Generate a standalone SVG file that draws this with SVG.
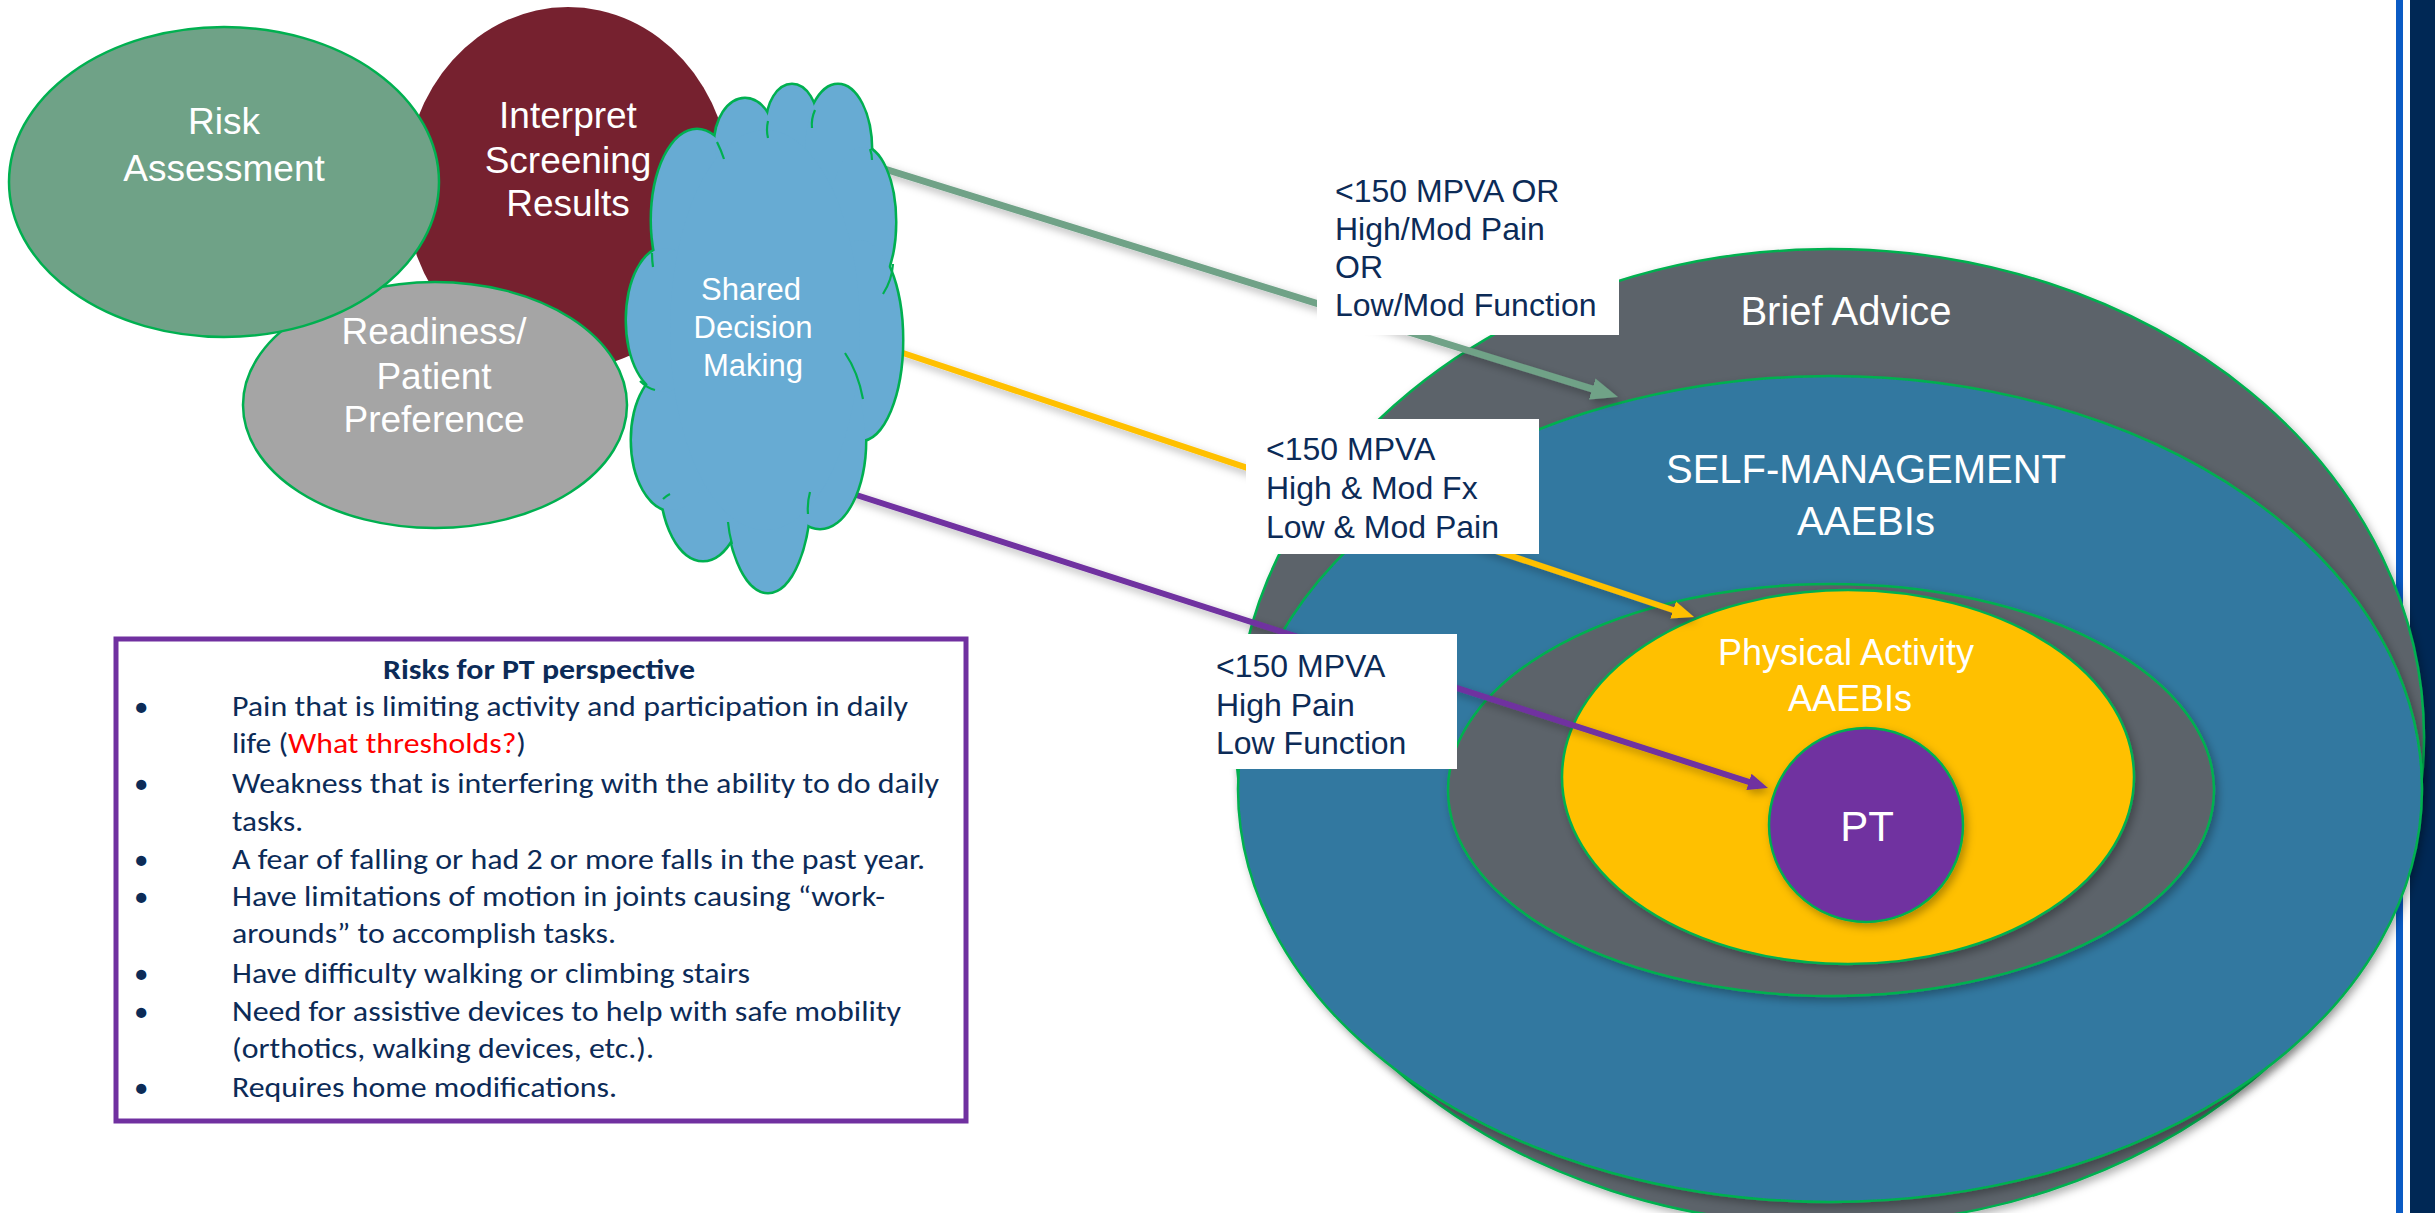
<svg xmlns="http://www.w3.org/2000/svg" xmlns:xlink="http://www.w3.org/1999/xlink" width="2435" height="1213" viewBox="0 0 2435 1213">
<style>
.t{font-family:"Liberation Sans",Arial,sans-serif}
.w{fill:#ffffff}
.lbl{font-family:"Liberation Sans",Arial,sans-serif;fill:#0C2B57;font-size:32px}
.cal{font-family:Carlito,Lato,"Open Sans",sans-serif;fill:#0C2B57;font-size:29px}
.ol{stroke:#00B050;stroke-width:2.5}
.box{fill:#ffffff}
</style>
<defs>
<filter id="sh" x="-10%" y="-10%" width="125%" height="125%">
<feDropShadow dx="3" dy="4" stdDeviation="4" flood-color="#000" flood-opacity="0.3"/>
</filter>
<marker id="ag" markerUnits="userSpaceOnUse" markerWidth="30" markerHeight="24" refX="4" refY="0" viewBox="0 -12 30 24" orient="auto">
<path d="M0,-11 L27,0 L0,11 z" fill="#6FA287"/>
</marker>
<marker id="ay" markerUnits="userSpaceOnUse" markerWidth="24" markerHeight="20" refX="3" refY="0" viewBox="0 -10 24 20" orient="auto">
<path d="M0,-9 L22,0 L0,9 z" fill="#FFC000"/>
</marker>
<marker id="ap" markerUnits="userSpaceOnUse" markerWidth="22" markerHeight="18" refX="3" refY="0" viewBox="0 -9 22 18" orient="auto">
<path d="M0,-8.5 L20,0 L0,8.5 z" fill="#7030A0"/>
</marker>
<g id="lobes">
<ellipse cx="697" cy="220" rx="45" ry="90"/>
<ellipse cx="745" cy="145" rx="30" ry="46"/>
<ellipse cx="792" cy="125" rx="25" ry="40"/>
<ellipse cx="838" cy="150" rx="33" ry="65"/>
<ellipse cx="862" cy="222" rx="33" ry="75"/>
<ellipse cx="860" cy="340" rx="42" ry="100"/>
<ellipse cx="820" cy="440" rx="45" ry="88"/>
<ellipse cx="768" cy="490" rx="42" ry="102"/>
<ellipse cx="703" cy="480" rx="42" ry="80"/>
<ellipse cx="672" cy="440" rx="40" ry="70"/>
<ellipse cx="665" cy="320" rx="38" ry="72"/>
</g>
</defs>
<rect x="0" y="0" width="2435" height="1213" fill="#ffffff"/>
<!-- right edge bars -->
<rect x="2396" y="0" width="7" height="1213" fill="#0A5BC4"/>
<rect x="2410" y="0" width="25" height="1213" fill="#002855"/>

<!-- concentric target -->
<g id="brief-advice">
<ellipse cx="1830" cy="737" rx="594" ry="488" fill="#5C646B" class="ol" filter="url(#sh)"/>
<text class="t w" x="1846" y="325" font-size="40" text-anchor="middle">Brief Advice</text>
</g>
<g id="self-management">
<ellipse cx="1830" cy="789" rx="592" ry="413" fill="#3078A0" class="ol" filter="url(#sh)"/>
<text class="t w" x="1866" y="483" font-size="40" text-anchor="middle">SELF-MANAGEMENT</text>
<text class="t w" x="1866" y="535" font-size="40" text-anchor="middle">AAEBIs</text>
</g>
<g id="inner-ring">
<ellipse cx="1831" cy="790" rx="383" ry="206" fill="#5C646B" class="ol" filter="url(#sh)"/>
</g>
<g id="physical-activity">
<ellipse cx="1848" cy="777" rx="286" ry="187" fill="#FFC000" class="ol" filter="url(#sh)"/>
<text class="t w" x="1846" y="665" font-size="36" text-anchor="middle">Physical Activity</text>
<text class="t w" x="1850" y="711" font-size="36" text-anchor="middle">AAEBIs</text>
</g>
<g id="pt">
<ellipse cx="1866" cy="825" rx="97" ry="97" fill="#7030A0" class="ol" filter="url(#sh)"/>
<text class="t w" x="1867" y="841" font-size="42" text-anchor="middle">PT</text>
</g>

<!-- left nodes -->
<g id="interpret">
<ellipse cx="568" cy="188" rx="163" ry="181" fill="#76212F"/>
<text class="t w" x="568" y="128" font-size="37" text-anchor="middle">Interpret</text>
<text class="t w" x="568" y="173" font-size="37" text-anchor="middle">Screening</text>
<text class="t w" x="568" y="216" font-size="37" text-anchor="middle">Results</text>
</g>
<g id="readiness">
<ellipse cx="435" cy="405" rx="192" ry="123" fill="#A5A5A5" class="ol"/>
<text class="t w" x="434" y="344" font-size="37" text-anchor="middle">Readiness/</text>
<text class="t w" x="434" y="389" font-size="37" text-anchor="middle">Patient</text>
<text class="t w" x="434" y="432" font-size="37" text-anchor="middle">Preference</text>
</g>
<g id="risk-assessment">
<ellipse cx="224" cy="182" rx="215" ry="155" fill="#6FA287" class="ol"/>
<text class="t w" x="224" y="134" font-size="37" text-anchor="middle">Risk</text>
<text class="t w" x="224" y="181" font-size="37" text-anchor="middle">Assessment</text>
</g>

<!-- connectors -->
<g id="connectors" fill="none" filter="url(#sh)">
<line x1="830" y1="152" x2="1596" y2="390.2" stroke="#6FA287" stroke-width="7" marker-end="url(#ag)"/>
<line x1="855" y1="337" x2="1676" y2="611" stroke="#FFC000" stroke-width="6" marker-end="url(#ay)"/>
<line x1="819" y1="483" x2="1751.8" y2="782.8" stroke="#7030A0" stroke-width="6" marker-end="url(#ap)"/>
</g>

<!-- cloud -->
<g id="shared-decision">
<use xlink:href="#lobes" href="#lobes" fill="none" stroke="#00B050" stroke-width="5"/>
<use xlink:href="#lobes" href="#lobes" fill="#67ABD3" stroke="none"/>
<ellipse cx="765" cy="330" rx="95" ry="200" fill="#67ABD3"/>
<g fill="none" stroke="#00B050" stroke-width="2.2">
<path d="M768,121 Q766,130 768,138"/>
<path d="M815,110 Q811,119 812,128"/>
<path d="M893,264 Q892,280 883,294"/>
<path d="M845,353 Q858,372 863,399"/>
<path d="M810,492 Q807,503 808,514"/>
<path d="M728,522 Q729,533 732,544"/>
<path d="M640,381 Q647,388 655,390"/>
<path d="M652,253 Q652,260 653,267"/>
<path d="M717,142 Q721,150 724,159"/>
<path d="M663,499 Q666,496 670,494"/>
<path d="M870,149 Q872,154 872,160"/>
</g>
<text class="t w" x="751" y="300" font-size="31" text-anchor="middle">Shared</text>
<text class="t w" x="753" y="338" font-size="31" text-anchor="middle">Decision</text>
<text class="t w" x="753" y="376" font-size="31" text-anchor="middle">Making</text>
</g>

<!-- label boxes -->
<g id="label-brief">
<rect x="1317" y="166" width="302" height="169" class="box"/>
<text class="lbl" x="1335" y="202">&lt;150 MPVA OR</text>
<text class="lbl" x="1335" y="240">High/Mod Pain</text>
<text class="lbl" x="1335" y="278">OR</text>
<text class="lbl" x="1335" y="316">Low/Mod Function</text>
</g>
<g id="label-self">
<rect x="1246" y="419" width="293" height="135" class="box"/>
<text class="lbl" x="1266" y="460">&lt;150 MPVA</text>
<text class="lbl" x="1266" y="499">High &amp; Mod Fx</text>
<text class="lbl" x="1266" y="538">Low &amp; Mod Pain</text>
</g>
<g id="label-pt">
<rect x="1200" y="634" width="257" height="135" class="box"/>
<text class="lbl" x="1216" y="677">&lt;150 MPVA</text>
<text class="lbl" x="1216" y="716">High Pain</text>
<text class="lbl" x="1216" y="754">Low Function</text>
</g>

<!-- risks box -->
<g id="risks-box">
<rect x="116" y="639" width="850" height="482" fill="#ffffff" stroke="#7030A0" stroke-width="5"/>
<text class="cal" x="539" y="679" font-weight="bold" text-anchor="middle" textLength="312" lengthAdjust="spacingAndGlyphs">Risks for PT perspective</text>
<g class="cal">
<text x="134" y="716">•</text>
<text x="134" y="793">•</text>
<text x="134" y="869">•</text>
<text x="134" y="906">•</text>
<text x="134" y="983">•</text>
<text x="134" y="1021">•</text>
<text x="134" y="1097">•</text>
</g>
<text class="cal" x="232" y="716" textLength="676" lengthAdjust="spacingAndGlyphs">Pain that is limiting activity and participation in daily</text>
<text class="cal" x="232" y="753" textLength="294" lengthAdjust="spacingAndGlyphs">life (<tspan fill="#FF0000">What thresholds?</tspan>)</text>
<text class="cal" x="232" y="793" textLength="707" lengthAdjust="spacingAndGlyphs">Weakness that is interfering with the ability to do daily</text>
<text class="cal" x="232" y="831" textLength="71" lengthAdjust="spacingAndGlyphs">tasks.</text>
<text class="cal" x="232" y="869" textLength="693" lengthAdjust="spacingAndGlyphs">A fear of falling or had 2 or more falls in the past year.</text>
<text class="cal" x="232" y="906" textLength="653" lengthAdjust="spacingAndGlyphs">Have limitations of motion in joints causing “work-</text>
<text class="cal" x="232" y="943" textLength="384" lengthAdjust="spacingAndGlyphs">arounds” to accomplish tasks.</text>
<text class="cal" x="232" y="983" textLength="518" lengthAdjust="spacingAndGlyphs">Have difficulty walking or climbing stairs</text>
<text class="cal" x="232" y="1021" textLength="669" lengthAdjust="spacingAndGlyphs">Need for assistive devices to help with safe mobility</text>
<text class="cal" x="232" y="1058" textLength="422" lengthAdjust="spacingAndGlyphs">(orthotics, walking devices, etc.).</text>
<text class="cal" x="232" y="1097" textLength="385" lengthAdjust="spacingAndGlyphs">Requires home modifications.</text>
</g>
</svg>
